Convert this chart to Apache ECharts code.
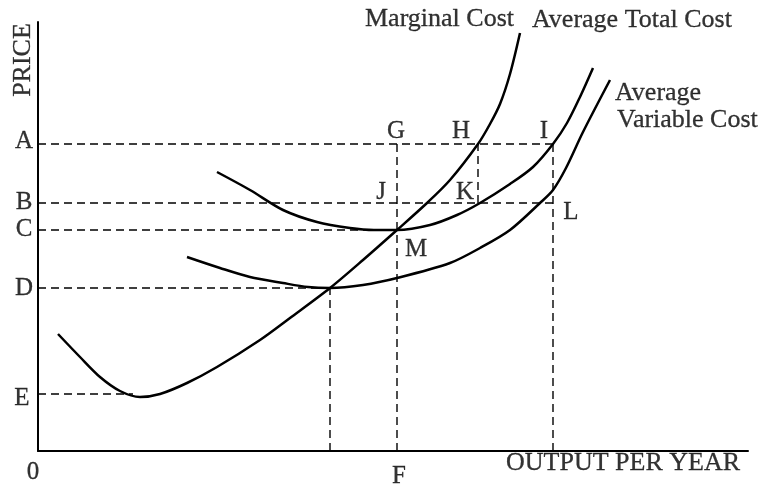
<!DOCTYPE html>
<html><head><meta charset="utf-8">
<script src="https://cdn.jsdelivr.net/npm/echarts@6/dist/echarts.min.js"></script>
<style>html,body{margin:0;padding:0;background:#fff}#c{width:762px;height:489px}</style>
</head><body><div id="c"></div>
<script>
// Abstract units: output (x) and price (y)
const marginalCost = [[20,117],[42,94],[62,74],[82,60],[102,54],[122,57],[149,68],[179,84],[222,111],[252,133],[292,163],[325,191],[359,221],[389,248],[412,271],[440,307],[452,327],[462,347],[472,377],[482,418]];
const averageTotalCost = [[179,279],[212,261],[245,241],[279,229],[312,223],[336,221],[359,221],[392,226],[419,236],[442,248],[472,267],[495,284],[515,307],[529,328],[542,354],[555,383]];
const averageVariableCost = [[149,194],[182,183],[212,174],[245,168],[270,164],[292,163],[325,166],[359,173],[412,188],[442,203],[472,221],[502,248],[515,261],[528,283],[545,319],[572,371]];
// price levels A-E and output levels
const priceLevels = {A:307, B:248, C:221, D:163, E:57};
const outputLevels = {D:292, F:359, H:440, I:515};
const guideLines = [
  [[0,priceLevels.A],[outputLevels.I,priceLevels.A]],
  [[0,priceLevels.B],[outputLevels.I,priceLevels.B]],
  [[0,priceLevels.C],[outputLevels.F,priceLevels.C]],
  [[0,priceLevels.D],[outputLevels.D,priceLevels.D]],
  [[0,priceLevels.E],[95,priceLevels.E]],
  [[outputLevels.D,0],[outputLevels.D,priceLevels.D]],
  [[outputLevels.F,0],[outputLevels.F,priceLevels.A]],
  [[outputLevels.H,priceLevels.B],[outputLevels.H,priceLevels.A]],
  [[outputLevels.I,0],[outputLevels.I,priceLevels.A]]
];
const letterLabels = [
  ['A',-14,310],['B',-14,249],['C',-14,222],['D',-14,163],['E',-16,53],['0',-5,-21],['F',361,-25],
  ['G',358,320],['H',423,320],['I',506,320],['J',343,259],['K',427,259],['L',533,239],['M',378,202]
];
const curveLabels = [
  ['Marginal Cost',327,432],['Average Total Cost',494,431],['Average',577,358],['Variable Cost',579,331],['OUTPUT PER YEAR',468,-12]
];
const axisTitle = ['PRICE',-15,391];

const font = 'Liberation Serif, Times New Roman, serif';
const chart = echarts.init(document.getElementById('c'));
const series = [];
const curveStyle = {color:'#000', width:2.5};
[marginalCost, averageTotalCost, averageVariableCost].forEach(d => series.push({
  type:'line', data:d, smooth:0.3, showSymbol:false, lineStyle:curveStyle, silent:true, z:3
}));
guideLines.forEach(d => series.push({
  type:'line', data:d, showSymbol:false, silent:true, z:2,
  lineStyle:{color:'#000', width:1.4, type:[8,5]}
}));
const textStyle = {show:true, position:'inside', formatter:'{b}', color:'#000', fontFamily:font, textBorderColor:'#000', textBorderWidth:0.3};
series.push({
  type:'scatter', clip:false, symbolSize:0, silent:true,
  data: letterLabels.map(l => ({name:l[0], value:[l[1],l[2]]})),
  label:Object.assign({}, textStyle, {fontSize:25, align:'center', verticalAlign:'middle'})
});
series.push({
  type:'scatter', clip:false, symbolSize:0, silent:true,
  data: curveLabels.map(l => ({name:l[0], value:[l[1],l[2]]})),
  label:Object.assign({}, textStyle, {fontSize:26, align:'left', verticalAlign:'middle'})
});
series.push({
  type:'scatter', clip:false, symbolSize:0, silent:true,
  data: [{name:axisTitle[0], value:[axisTitle[1],axisTitle[2]]}],
  label:Object.assign({}, textStyle, {fontSize:26, rotate:90, align:'center', verticalAlign:'middle'})
});
chart.setOption({
  animation:false,
  backgroundColor:'#fff',
  grid:{left:38, right:14, top:22, bottom:38},
  xAxis:{type:'value', min:0, max:710, axisLine:{onZero:false, lineStyle:{color:'#000', width:2}}, axisTick:{show:false}, axisLabel:{show:false}, splitLine:{show:false}},
  yAxis:{type:'value', min:0, max:429, axisLine:{show:true, onZero:false, lineStyle:{color:'#000', width:2}}, axisTick:{show:false}, axisLabel:{show:false}, splitLine:{show:false}},
  series: series
});
</script></body></html>
